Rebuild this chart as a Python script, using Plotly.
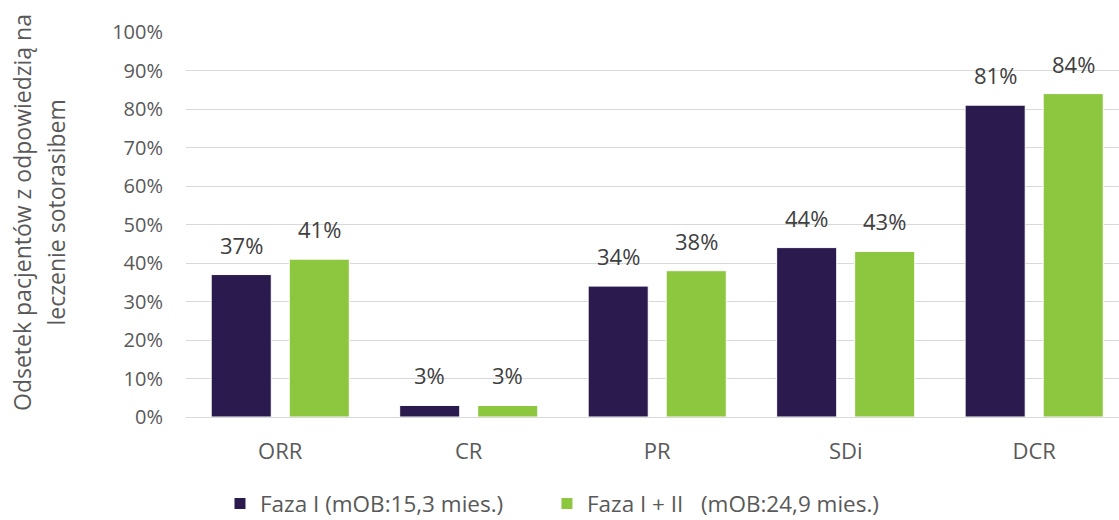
import plotly.graph_objects as go

categories = ["ORR", "CR", "PR", "SDi", "DCR"]
faza1 = [37, 3, 34, 44, 81]
faza12 = [41, 3, 38, 43, 84]
series_names = ["Faza I (mOB:15,3 mies.)", "Faza I + II\u00a0\u00a0\u00a0(mOB:24,9 mies.)"]
y_ticks = [0, 10, 20, 30, 40, 50, 60, 70, 80, 90, 100]
y_title_lines = ["Odsetek pacjentów z odpowiedzią na", "leczenie sotorasibem"]

DARK = "#2B1A4E"
GREEN = "#8DC63F"
FONT = "Open Sans"
BAR_SHIFT = 39  # px from category centre to each bar's centre

fig = go.Figure()
for name, vals, color, leg in [(series_names[0], faza1, DARK, "legend"),
                               (series_names[1], faza12, GREEN, "legend2")]:
    fig.add_trace(go.Bar(
        x=categories, y=vals, name=name, legend=leg, showlegend=True,
        marker=dict(color=color, line=dict(color="#ffffff", width=1)),
    ))

# value labels above each bar
for vals, shift in [(faza1, -BAR_SHIFT), (faza12, BAR_SHIFT)]:
    for cat, v in zip(categories, vals):
        fig.add_annotation(x=cat, y=v, text=f"{v}%", showarrow=False,
                           xshift=shift, yshift=13, yanchor="bottom",
                           font=dict(size=22, color="#404040", family=FONT))

# two-line rotated y-axis title
for line, xpos in zip(y_title_lines, [-0.176, -0.139]):
    fig.add_annotation(xref="paper", yref="paper", x=xpos, y=0.532,
                       text=line, textangle=-90, showarrow=False,
                       xanchor="center", yanchor="middle",
                       font=dict(size=23, color="#595959", family=FONT))

legend_style = dict(orientation="h", xref="container", yref="container",
                    xanchor="left", y=0.031, yanchor="middle", visible=True,
                    font=dict(size=22.5, color="#595959", family=FONT),
                    itemwidth=30)

fig.update_layout(
    width=1119, height=520, showlegend=True,
    margin=dict(l=186, r=0, t=32, b=103, autoexpand=False),
    paper_bgcolor="white", plot_bgcolor="white",
    font=dict(family=FONT, color="#595959", size=20),
    barmode="group", bargap=0.172, bargroupgap=0.23,
    legend=dict(x=0.1966, **legend_style),
    legend2=dict(x=0.4888, **legend_style),
    xaxis=dict(range=[-0.5, 4.45], showgrid=False, showline=False, ticks="",
               ticklabelstandoff=19, automargin=False,
               tickfont=dict(size=22, color="#595959")),
    yaxis=dict(range=[0, 100], tickvals=y_ticks, ticktext=[f"{t}%" for t in y_ticks],
               showgrid=True, gridcolor="#d9d9d9", gridwidth=1,
               zeroline=True, zerolinecolor="#d9d9d9", zerolinewidth=1,
               ticks="", ticklabelstandoff=22, automargin=False,
               tickfont=dict(size=20, color="#595959")),
)

fig.write_html("out.html")
